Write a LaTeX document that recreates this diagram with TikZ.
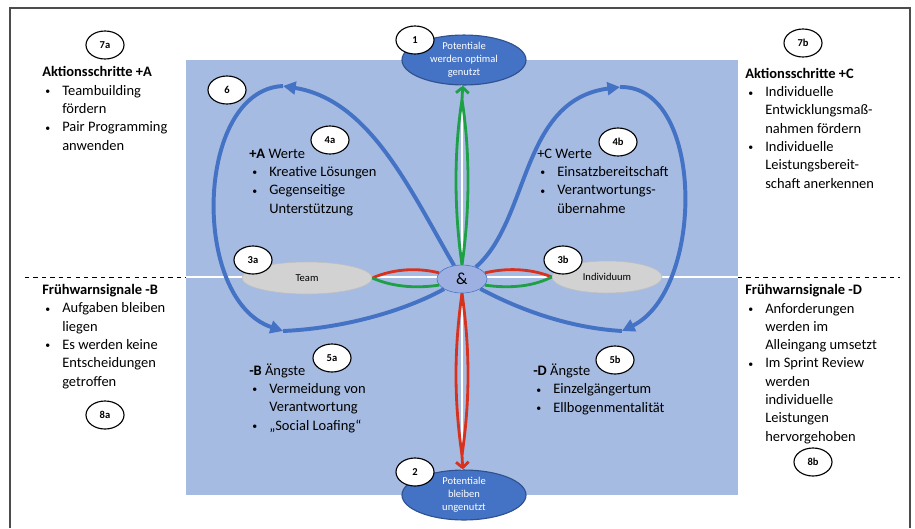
\documentclass[tikz,border=0pt]{standalone}
\usepackage{fontspec}
\setmainfont{Carlito}
\usetikzlibrary{arrows.meta, shapes.geometric, positioning}
\definecolor{flaeche}{RGB}{166,187,226}
\definecolor{kreisblau}{RGB}{68,114,196}
\definecolor{zielrand}{RGB}{47,82,143}
\definecolor{gruen}{RGB}{30,160,70}
\definecolor{rot}{RGB}{215,50,30}
\definecolor{polgrau}{RGB}{210,210,210}
\definecolor{undblau}{RGB}{158,176,226}
\newcommand{\pkt}{\makebox[0.5cm][l]{\hspace{0.08cm}\raisebox{0.4pt}{\fontsize{7}{7}\selectfont\textbullet}}}
\newcommand{\ein}{\hspace*{0.5cm}}
\tikzset{
x=0.025cm, y=-0.025cm, % one pixel of the original, y downwards
marke/.style={ellipse, draw, fill=white, thick, minimum width=0.95cm, minimum height=0.7cm, inner sep=0pt, font=\fontsize{7.5}{9}\selectfont\bfseries}, % numbered markers
ziel/.style={ellipse, draw=zielrand, thick, fill=kreisblau, text=white, minimum width=3.1cm, minimum height=1.2cm, inner sep=0pt, align=center, font=\fontsize{7.5}{9.3}\selectfont}, % outcome ellipses
pol/.style={ellipse, draw=gray!50, fill=polgrau, minimum height=0.8cm, inner sep=0pt, font=\fontsize{7.5}{9}\selectfont}, % team / individual
block/.style={anchor=base west, align=left, inner sep=0pt, font=\fontsize{10.3}{13}\selectfont}, % text lists, placed at last baseline
bogen/.style={draw=kreisblau, line width=2.8pt}, % blue loops
pfeil/.style={-{Triangle[length=9pt,width=9pt]}},
linse/.style={line width=2pt}, % red and green lenses
spitze/.style={-{Straight Barb[length=4pt,width=9pt]}},
}
\begin{document}
\begin{tikzpicture}
\useasboundingbox (0,0) rectangle (915,528);
% frame and background
\draw[gray!60!black, line width=0.8pt] (10,528) -- (10,8) -- (910,8) -- (910,528);
\fill[flaeche] (186,60) rectangle (738,495);
\draw[white, line width=1.2pt] (186,277) -- (738,277);
\draw[white, line width=1.2pt] (462,83) -- (462,470);
\draw[dashed] (25,277) -- (186,277);
\draw[dashed] (738,277) -- (900,277);

% main nodes
\node[ziel] (ziel1) at (464,60) {Potentiale\\werden optimal\\genutzt};
\node[ziel] (ziel2) at (464,495) {Potentiale\\bleiben\\ungenutzt};
\node[pol, minimum width=3.25cm] (team) at (307,278) {Team};
\node[pol, minimum width=2.75cm] (indiv) at (607,277) {Individuum};
\node[ellipse, draw=kreisblau, fill=undblau, minimum width=1.25cm, minimum height=0.7cm, inner sep=0pt, font=\fontsize{12}{13}\selectfont] (und) at (462,279) {\&};

% blue loops
\coordinate (p6o) at (283,86);
\coordinate (p6u) at (283,331);
\coordinate (p4o) at (620,87);
\coordinate (p4u) at (622,331);
\draw[bogen,pfeil] (und) .. controls (410,190) and (370,100) .. (p6o);
\draw[bogen,pfeil] (p6o) .. controls (195,90) and (190,300) .. (p6u);
\draw[bogen] (p6u) .. controls (350,328) and (410,308) .. (und);
\draw[bogen,pfeil] (und) .. controls (530,220) and (520,100) .. (p4o);
\draw[bogen,pfeil] (p4o) .. controls (705,85) and (705,290) .. (p4u);
\draw[bogen] (p4u) .. controls (570,328) and (520,310) .. (und);

% lenses
\coordinate (spitzeO) at (462,100);
\coordinate (spitzeU) at (462,455);
\draw[linse,gruen] (und.north) .. controls (454,210) and (454,150) .. (spitzeO);
\draw[linse,gruen] (und.north) .. controls (470,210) and (470,150) .. (spitzeO);
\draw[linse,gruen,spitze] (spitzeO) -- (ziel1);
\draw[linse,rot] (und.south) .. controls (454,350) and (454,400) .. (spitzeU);
\draw[linse,rot] (und.south) .. controls (470,350) and (470,400) .. (spitzeU);
\draw[linse,rot,spitze] (spitzeU) -- (ziel2);
\draw[linse,rot] (team.east) .. controls (395,268) and (420,268) .. (und.165);
\draw[linse,gruen] (team.east) .. controls (395,288) and (420,288) .. (und.195);
\draw[linse,rot] (und.15) .. controls (505,268) and (530,268) .. (indiv.west);
\draw[linse,gruen] (und.345) .. controls (505,288) and (530,288) .. (indiv.west);

% markers
\node[marke] (m7a) at (105,45) {7a};
\node[marke] (m1) at (415,40) {1};
\node[marke] (m7b) at (803,43) {7b};
\node[marke] (m6) at (227,90) {6};
\node[marke] (m4a) at (330,140) {4a};
\node[marke] (m4b) at (618,142) {4b};
\node[marke] (m3a) at (253,260) {3a};
\node[marke] (m3b) at (563,260) {3b};
\node[marke] (m5a) at (332,358) {5a};
\node[marke] (m5b) at (615,360) {5b};
\node[marke] (m8a) at (105,415) {8a};
\node[marke] (m8b) at (813,462) {8b};
\node[marke] (m2) at (415,472) {2};

% text blocks
\node[block] (aktA) at (42,150) {\textbf{Aktionsschritte +A}\\ \pkt Teambuilding\\ \ein fördern\\ \pkt Pair Programming\\ \ein anwenden};
\node[block] (werteA) at (249,213) {\textbf{+A} Werte\\ \pkt Kreative Lösungen\\ \pkt Gegenseitige\\ \ein Unterstützung};
\node[block] (werteC) at (537,213) {+C Werte\\ \pkt Einsatzbereitschaft\\ \pkt Verantwortungs-\\ \ein übernahme};
\node[block] (aktC) at (745,188) {\textbf{Aktionsschritte +C}\\ \pkt Individuelle\\ \ein Entwicklungsmaß-\\ \ein nahmen fördern\\ \pkt Individuelle\\ \ein Leistungsbereit-\\ \ein schaft anerkennen};
\node[block] (warnB) at (42,386) {\textbf{Frühwarnsignale -B}\\ \pkt Aufgaben bleiben\\ \ein liegen\\ \pkt Es werden keine\\ \ein Entscheidungen\\ \ein getroffen};
\node[block] (angstB) at (249,430) {\textbf{-B} Ängste\\ \pkt Vermeidung von\\ \ein Verantwortung\\ \pkt „Social Loafing“};
\node[block] (angstD) at (533,412) {\textbf{-D} Ängste\\ \pkt Einzelgängertum\\ \pkt Ellbogenmentalität};
\node[block] (warnD) at (745,441) {\textbf{Frühwarnsignale -D}\\ \pkt Anforderungen\\ \ein werden im\\ \ein Alleingang umsetzt\\ \pkt Im Sprint Review\\ \ein werden\\ \ein individuelle\\ \ein Leistungen\\ \ein hervorgehoben};
\end{tikzpicture}
\end{document}
